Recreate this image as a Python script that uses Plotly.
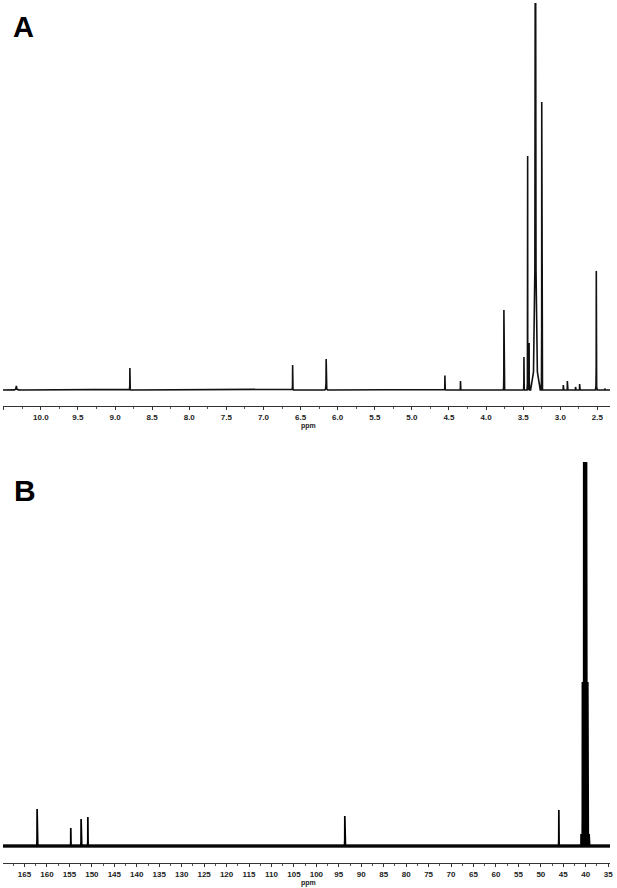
# ============================================================
# 1H / 13C NMR spectra, panels A and B
# ============================================================

import plotly.graph_objects as go


# ============================================================
# Data (intensity in arbitrary units)
# ============================================================

# Panel A - 1H NMR
H_PPM = [10.33, 8.80, 6.607, 6.155, 4.555, 4.345, 3.76, 3.49, 3.44, 3.42,
         3.335, 3.25, 2.96, 2.905, 2.795, 2.74, 2.515, 2.40]
H_HEIGHT = [4, 22, 25, 31, 14.5, 9, 80, 33, 234, 47,
            600, 288, 5, 9, 3, 6, 119, 1.5]
H_WIDTH = [0.07, 0.012, 0.012, 0.02, 0.012, 0.012, 0.01, 0.01, 0.008, 0.008,
           0.065, 0.01, 0.008, 0.008, 0.008, 0.008, 0.012, 0.008]

# Panel B - 13C NMR (DMSO septet around 40 ppm)
C_PPM = [162.2, 154.7, 152.4, 150.9, 93.67, 46.0,
         41.05, 40.75, 40.45, 40.15, 39.85, 39.55, 39.25]
C_HEIGHT = [37, 18, 27, 29, 30, 36,
            12, 164, 450, 520, 450, 164, 12]
C_WIDTH = [0.15, 0.15, 0.15, 0.15, 0.15, 0.15,
           0.12, 0.12, 0.12, 0.12, 0.12, 0.12, 0.12]

H_TICKS = [10.5, 10.0, 9.5, 9.0, 8.5, 8.0, 7.5, 7.0, 6.5, 6.0,
           5.5, 5.0, 4.5, 4.0, 3.5, 3.0, 2.5]
C_TICKS = [165, 160, 155, 150, 145, 140, 135, 130, 125, 120, 115, 110,
           105, 100, 95, 90, 85, 80, 75, 70, 65, 60, 55, 50, 45, 40, 35]

H_RANGE = [10.51, 2.33]
C_RANGE = [169.8, 34.6]

# peak drawn as a small stencil: offset (x width) and level (x height)
PROFILE_OFFSET = [-1.0, -0.4, -0.12, 0.0, 0.12, 0.4, 1.0]
PROFILE_LEVEL = [0.0, 0.03, 0.2, 1.0, 0.2, 0.03, 0.0]


# ============================================================
# Helpers
# ============================================================

W, H = 617, 888


def px_x(x):
    return x / W


def px_y(y):
    return 1 - y / H


def spectrum_xy(ppm, height, width, x_range):
    xs = [x_range[0]]
    ys = [0]
    for p, h, w in sorted(zip(ppm, height, width), reverse=True):
        for off, lev in zip(PROFILE_OFFSET, PROFILE_LEVEL):
            xs.append(p - off * w)
            ys.append(h * lev)
    xs.append(x_range[1])
    ys.append(0)
    return xs, ys


tick_font = dict(family="Liberation Sans, Arial", size=8, color="#222222",
                 weight="bold")

axis_common = dict(
    showline=True,
    linecolor="#333333",
    linewidth=1,
    ticks="outside",
    ticklen=3,
    tickwidth=1,
    tickcolor="#333333",
    showgrid=False,
    zeroline=False,
    tickfont=tick_font,
    minor=dict(ticks="outside", ticklen=2, tickcolor="#555555"),
)


# ============================================================
# Figure
# ============================================================

fig = go.Figure()

hx, hy = spectrum_xy(H_PPM, H_HEIGHT, H_WIDTH, H_RANGE)
fig.add_trace(
    go.Scatter(
        x=hx, y=hy, mode="lines",
        line=dict(color="#111111", width=1.6),
        xaxis="x", yaxis="y", showlegend=False,
    )
)

# noisy 13C baseline, drawn as a thick band
fig.add_trace(
    go.Scatter(
        x=C_RANGE, y=[0, 0], mode="lines",
        line=dict(color="#1a1a1a", width=3.4),
        xaxis="x2", yaxis="y2", showlegend=False,
    )
)

cx, cy = spectrum_xy(C_PPM, C_HEIGHT, C_WIDTH, C_RANGE)
fig.add_trace(
    go.Scatter(
        x=cx, y=cy, mode="lines",
        line=dict(color="#000000", width=1.7),
        xaxis="x2", yaxis="y2", showlegend=False,
    )
)

fig.update_layout(
    width=W,
    height=H,
    margin=dict(l=0, r=0, t=0, b=0),
    paper_bgcolor="white",
    plot_bgcolor="white",
    xaxis=dict(
        domain=[px_x(3), px_x(613)],
        anchor="y",
        range=H_RANGE,
        tickvals=H_TICKS,
        ticktext=[f"{v:.1f}" for v in H_TICKS],
        **axis_common,
    ),
    yaxis=dict(
        domain=[px_y(406), px_y(3)],
        anchor="x",
        range=[-16, 387],
        visible=False,
    ),
    xaxis2=dict(
        domain=[px_x(3), px_x(613)],
        anchor="y2",
        range=C_RANGE,
        tickvals=C_TICKS,
        ticktext=[str(v) for v in C_TICKS],
        **axis_common,
    ),
    yaxis2=dict(
        domain=[px_y(863), px_y(462)],
        anchor="x2",
        range=[-17, 384],
        visible=False,
    ),
)

fig.update_xaxes(minor=dict(dtick=0.25), selector=dict(anchor="y"))
fig.update_xaxes(minor=dict(dtick=2.5), selector=dict(anchor="y2"))

annotations = [
    ("A", 24, 26.7, 29),
    ("B", 25, 490.5, 30),
    ("ppm", 310, 426, 7),
    ("ppm", 310, 883, 7),
]
for label, x, y, size in annotations:
    fig.add_annotation(
        text=label,
        x=px_x(x), y=px_y(y),
        xref="paper", yref="paper",
        xanchor="center", yanchor="middle",
        showarrow=False,
        font=dict(family="Liberation Sans, Arial", size=size,
                  color="#000000" if size > 10 else "#222222",
                  weight="bold"),
    )

# page body margin would shift the figure; drop it
fig.write_html(
    "out.html",
    config=dict(displayModeBar=False),
    post_script="document.body.style.margin='0';"
                "document.body.style.overflow='hidden';",
)
